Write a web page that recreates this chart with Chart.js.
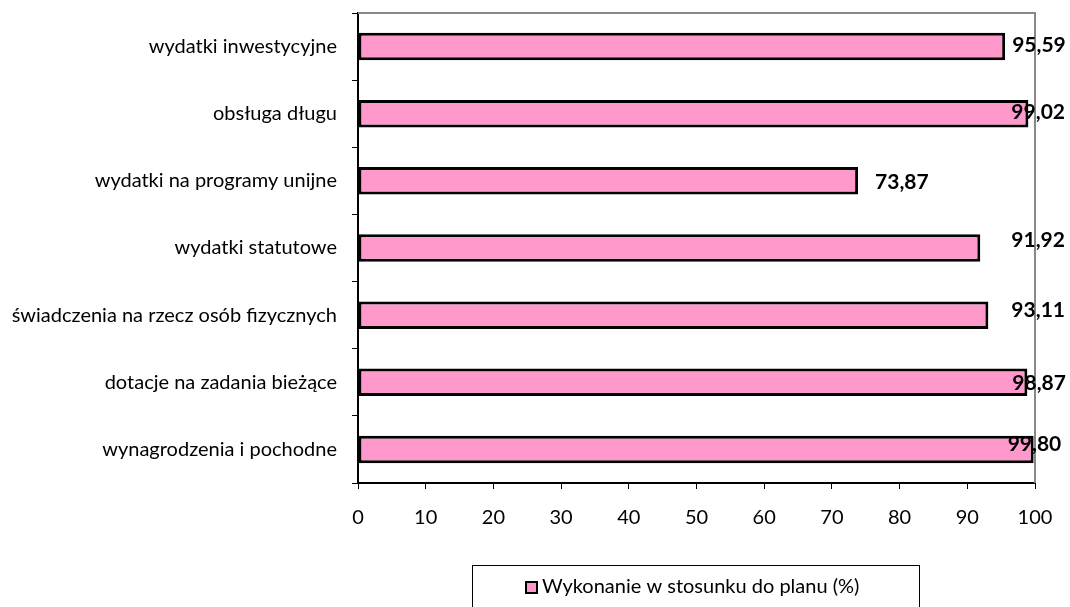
<!DOCTYPE html>
<html>
<head>
<meta charset="utf-8">
<script src="https://cdn.jsdelivr.net/npm/chart.js@4"></script>
<style>
  body { margin: 0; background: #fff; }
  #wrap { width: 1070px; height: 607px; }
</style>
</head>
<body>
<div id="wrap"><canvas id="chart"></canvas></div>
<script>
// categories (top to bottom)
const categories = [
  "wydatki inwestycyjne",
  "obsługa długu",
  "wydatki na programy unijne",
  "wydatki statutowe",
  "świadczenia na rzecz osób fizycznych",
  "dotacje na zadania bieżące",
  "wynagrodzenia i pochodne"
];
const values = [95.59, 99.02, 73.87, 91.92, 93.11, 98.87, 99.80];
const seriesName = "Wykonanie w stosunku do planu (%)";
const xTicks = [0, 10, 20, 30, 40, 50, 60, 70, 80, 90, 100];

const FONT = "Lato, 'Liberation Sans', sans-serif";

// value labels were nudged by hand in the original, so keep the shifts
const labelDx = [7, -17, 17, 31, 23, -15, -26];
const labelDy = [-1, -1, 1, -8, -5, 1, -5];

// gray top / right frame
const framePlugin = {
  id: "frame",
  afterDatasetsDraw(chart) {
    const { ctx, chartArea: a } = chart;
    ctx.save();
    ctx.strokeStyle = "#888888";
    ctx.lineWidth = 2;
    ctx.beginPath();
    ctx.moveTo(a.left, a.top);
    ctx.lineTo(a.right, a.top);
    ctx.lineTo(a.right, a.bottom);
    ctx.stroke();
    ctx.restore();
  }
};

// value labels
const labelPlugin = {
  id: "valueLabels",
  afterDatasetsDraw(chart) {
    const { ctx } = chart;
    const meta = chart.getDatasetMeta(0);
    ctx.save();
    ctx.font = "bold 21px " + FONT;
    ctx.fillStyle = "#000";
    ctx.textBaseline = "middle";
    ctx.textAlign = "left";
    meta.data.forEach((bar, i) => {
      const txt = values[i].toFixed(2).replace(".", ",");
      ctx.fillText(txt, bar.x + labelDx[i], bar.y + labelDy[i]);
    });
    ctx.restore();
  }
};

// boxed legend at the bottom
const legendPlugin = {
  id: "boxLegend",
  afterDraw(chart) {
    const { ctx } = chart;
    ctx.save();
    ctx.strokeStyle = "#000";
    ctx.lineWidth = 1;
    ctx.strokeRect(472.5, 565.5, 447, 60);
    ctx.fillStyle = "#FF99CC";
    ctx.fillRect(526, 582, 11, 11);
    ctx.lineWidth = 2;
    ctx.strokeRect(526, 582, 11, 11);
    ctx.font = "20px " + FONT;
    ctx.fillStyle = "#000";
    ctx.textBaseline = "middle";
    ctx.fillText(chart.data.datasets[0].label, 542, 587);
    ctx.restore();
  }
};

new Chart(document.getElementById("chart"), {
  type: "bar",
  data: {
    labels: categories,
    datasets: [
      {
        label: seriesName,
        data: values,
        backgroundColor: "#FF99CC",
        borderColor: "#000000",
        borderWidth: 3,
        borderSkipped: false,
        barPercentage: 0.41,
        categoryPercentage: 1
      }
    ]
  },
  options: {
    indexAxis: "y",
    responsive: true,
    maintainAspectRatio: false,
    animation: false,
    layout: { padding: { left: 0, right: 35, top: 13, bottom: 0 } },
    plugins: {
      legend: { display: false },
      tooltip: { enabled: false }
    },
    scales: {
      x: {
        min: 0,
        max: 100,
        afterBuildTicks: (s) => { s.ticks = xTicks.map(v => ({ value: v })); },
        afterFit: (s) => { s.height = 124; },
        border: { color: "#000", width: 2 },
        grid: { drawOnChartArea: false, tickLength: 6, color: "#000", lineWidth: 1 },
        ticks: { color: "#000", font: { family: FONT, size: 20 }, padding: 17 }
      },
      y: {
        afterFit: (s) => { s.width = 358; s.paddingTop = 0; s.paddingBottom = 0; },
        border: { color: "#000", width: 2 },
        grid: { drawOnChartArea: false, tickLength: 6, color: "#000", lineWidth: 1, offset: true },
        ticks: { color: "#000", font: { family: FONT, size: 20 }, padding: 15 }
      }
    }
  },
  plugins: [framePlugin, labelPlugin, legendPlugin]
});
</script>
</body>
</html>
